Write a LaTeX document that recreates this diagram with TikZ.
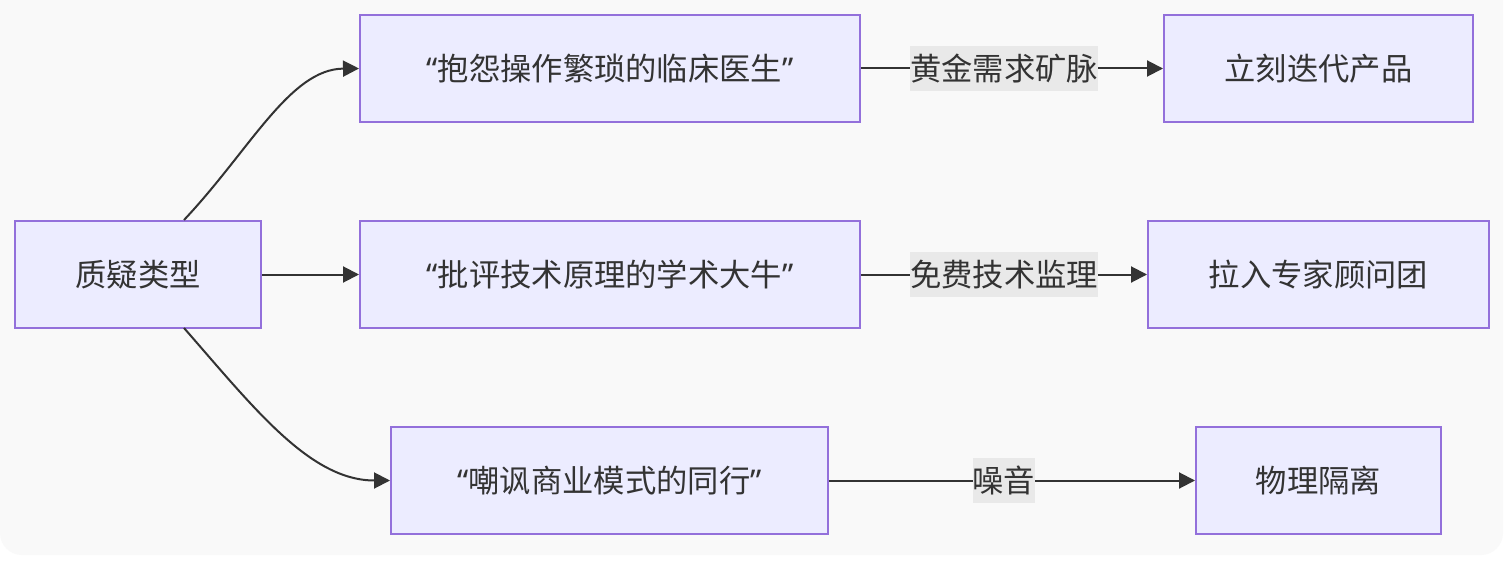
\documentclass[tikz,border=0pt]{standalone}
\usepackage{fontspec}
\setmainfont{Noto Sans CJK SC}
\newfontfamily\latq{Noto Sans}
\usetikzlibrary{arrows.meta}
\definecolor{bgc}{HTML}{F9F9F9}
\definecolor{boxfill}{HTML}{ECECFF}
\definecolor{boxline}{HTML}{9370DB}
\definecolor{ink}{HTML}{333333}
\definecolor{lblbg}{HTML}{E9E9E9}
\newcommand{\myoq}{{\latq “}}
\newcommand{\mycq}{{\latq ”}}
\begin{document}
\begin{tikzpicture}[x=1pt,y=-1pt,
  box/.style={draw=boxline, fill=boxfill, line width=2pt, minimum height=107pt, inner sep=0pt, text=ink, font=\fontsize{31.3}{37}\selectfont},
  edge/.style={draw=ink, line width=2pt, -{Triangle[length=16pt,width=16pt]}},
  lbl/.style={fill=lblbg, text=ink, inner xsep=0pt, inner ysep=8pt, font=\fontsize{31.3}{37}\selectfont}]
\useasboundingbox (0,0) rectangle (1506,569);
\fill[white] (0,0) rectangle (1506,569);
\fill[bgc, rounded corners=22pt] (0,-40) rectangle (1503,555);
\node[box, minimum width=246pt] (q) at (138,274.5) {质疑类型};
\node[box, minimum width=500pt] (a1) at (610,68.5) {\myoq 抱怨操作繁琐的临床医生\mycq};
\node[box, minimum width=500pt] (a2) at (610,274.5) {\myoq 批评技术原理的学术大牛\mycq};
\node[box, minimum width=437pt] (a3) at (609.5,480.5) {\myoq 嘲讽商业模式的同行\mycq};
\node[box, minimum width=309pt] (b1) at (1318.5,68.5) {立刻迭代产品};
\node[box, minimum width=341pt] (b2) at (1318.5,274.5) {拉入专家顾问团};
\node[box, minimum width=245pt] (b3) at (1318.5,480.5) {物理隔离};
\coordinate (qt) at (184,220);
\coordinate (qb) at (184,328);
\draw[edge] (qt) .. controls (250,150) and (290,69) .. (a1.west);
\draw[edge] (q.east) -- (a2.west);
\draw[edge] (qb) .. controls (254,408) and (310,480.5) .. (a3.west);
\draw[edge] (a1.east) -- node[lbl, pos=0.474] {黄金需求矿脉} (b1.west);
\draw[edge] (a2.east) -- node[lbl, pos=0.5] {免费技术监理} (b2.west);
\draw[edge] (a3.east) -- node[lbl, pos=0.478] {噪音} (b3.west);
\end{tikzpicture}
\end{document}
